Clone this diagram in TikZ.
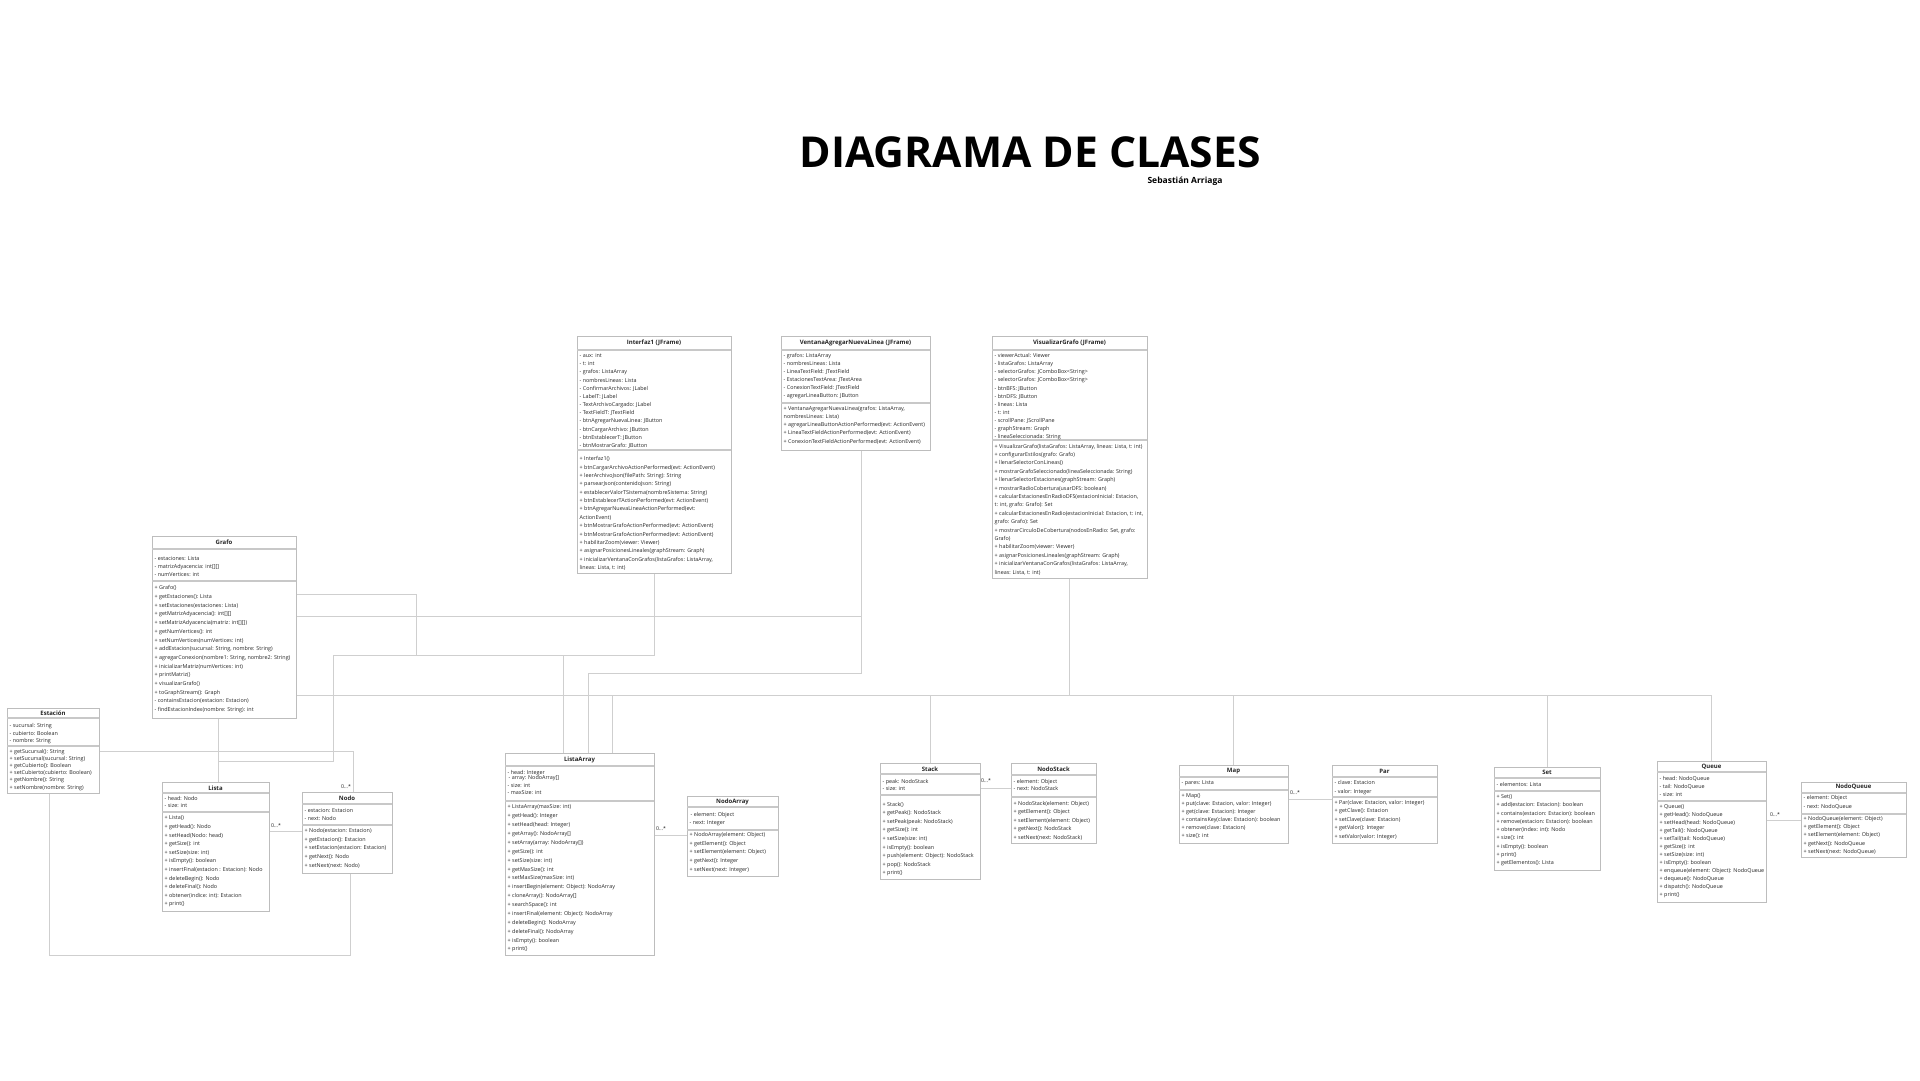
\documentclass[tikz,border=0pt]{standalone}
\usepackage{fontspec}
\setmainfont{Open Sans}
\usetikzlibrary{calc}
\pgfdeclarelayer{bg}
\pgfdeclarelayer{paper}
\pgfsetlayers{paper,bg,main}
\definecolor{boxline}{HTML}{BDBDBD}
\definecolor{sepcol}{HTML}{C8C8C8}
\definecolor{conncol}{HTML}{CFCFCF}
\definecolor{txt}{HTML}{262626}
\tikzset{
  clsbox/.style={draw=boxline, fill=white, line width=0.8pt, inner sep=0pt, outer sep=0pt},
  sepline/.style={draw=sepcol, line width=1.3pt},
  clstitle/.style={font=\bfseries\fontsize{6}{7}\selectfont, inner sep=0pt, text=txt},
  members/.style={font=\fontsize{5.4}{#1}\selectfont, align=left, inner sep=0pt, anchor=north west, text=txt},
  conn/.style={draw=conncol, line width=0.9pt},
  mult/.style={font=\fontsize{5.2}{6}\selectfont, inner sep=0pt, text=txt}
}
\newcommand\umlbox[7]{%
  \node[clsbox, minimum width={#4-#2}, minimum height={#5-#3}, anchor=north west] (#1) at (#2,#3) {};
  \draw[sepline] (#2,#6) -- (#4,#6);
  \draw[sepline] (#2,#7) -- (#4,#7);}
\begin{document}
\begin{tikzpicture}[x=1pt,y=-1pt]
\useasboundingbox (0,0) rectangle (1920,1080);
\begin{pgfonlayer}{paper}
\fill[white] (0,0) rectangle (1920,1080);
\end{pgfonlayer}

\node[font=\bfseries\fontsize{42.6}{50}\selectfont, text=black, inner sep=0pt] (title) at (1030,152) {DIAGRAMA DE CLASES};
\node[font=\bfseries\fontsize{8.5}{10}\selectfont, text=black, inner sep=0pt] (author) at (1185,181) {Sebastián Arriaga};

% ---------------- Interfaz1
\umlbox{interfaz}{577}{336}{731}{573}{350}{450}
\node[clstitle] (interfaz-t) at (654,343) {Interfaz1 (JFrame)};
\node[members=8.18] (interfaz-a) at (579.5,353.3) {- aux: int\\- t: int\\- grafos: ListaArray\\- nombresLineas: Lista\\- ConfirmarArchivos: JLabel\\- LabelT: JLabel\\- TextArchivoCargado: JLabel\\- TextFieldT: JTextField\\- btnAgregarNuevaLinea: JButton\\- btnCargarArchivo: JButton\\- btnEstablecerT: JButton\\- btnMostrarGrafo: JButton};
\node[members=8.38] (interfaz-m) at (579.5,456.3) {+ Interfaz1()\\+ btnCargarArchivoActionPerformed(evt: ActionEvent)\\+ leerArchivoJson(filePath: String): String\\+ parsearJson(contenidoJson: String)\\+ establecerValorTSistema(nombreSistema: String)\\+ btnEstablecerTActionPerformed(evt: ActionEvent)\\+ btnAgregarNuevaLineaActionPerformed(evt:\\ActionEvent)\\+ btnMostrarGrafoActionPerformed(evt: ActionEvent)\\+ btnMostrarGrafoActionPerformed(evt: ActionEvent)\\+ habilitarZoom(viewer: Viewer)\\+ asignarPosicionesLineales(graphStream: Graph)\\+ inicializarVentanaConGrafos(listaGrafos: ListaArray,\\lineas: Lista, t: int)};

% ---------------- VentanaAgregarNuevaLinea
\umlbox{ventana}{781}{336}{930}{450}{350}{403}
\node[clstitle] (ventana-t) at (855.5,343) {VentanaAgregarNuevaLinea (JFrame)};
\node[members=8] (ventana-a) at (783.5,353.3) {- grafos: ListaArray\\- nombresLineas: Lista\\- LineaTextField: JTextField\\- EstacionesTextArea: JTextArea\\- ConexionTextField: JTextField\\- agregarLineaButton: JButton};
\node[members=8.2] (ventana-m) at (783.5,406) {+ VentanaAgregarNuevaLinea(grafos: ListaArray,\\nombresLineas: Lista)\\+ agregarLineaButtonActionPerformed(evt: ActionEvent)\\+ LineaTextFieldActionPerformed(evt: ActionEvent)\\+ ConexionTextFieldActionPerformed(evt: ActionEvent)};

% ---------------- VisualizarGrafo
\umlbox{visualizar}{992}{336}{1147}{578}{350}{440}
\node[clstitle] (visualizar-t) at (1069.5,343) {VisualizarGrafo (JFrame)};
\node[members=8.1] (visualizar-a) at (994.5,353.3) {- viewerActual: Viewer\\- listaGrafos: ListaArray\\- selectorGrafos: JComboBox<String>\\- selectorGrafos: JComboBox<String>\\- btnBFS: JButton\\- btnDFS: JButton\\- lineas: Lista\\- t: int\\- scrollPane: JScrollPane\\- graphStream: Graph\\- lineaSeleccionada: String};
\node[members=8.4] (visualizar-m) at (994.5,443.8) {+ VisualizarGrafo(listaGrafos: ListaArray, lineas: Lista, t: int)\\+ configurarEstilos(grafo: Grafo)\\+ llenarSelectorConLineas()\\+ mostrarGrafoSeleccionado(lineaSeleccionada: String)\\+ llenarSelectorEstaciones(graphStream: Graph)\\+ mostrarRadioCobertura(usarDFS: boolean)\\+ calcularEstacionesEnRadioDFS(estacionInicial: Estacion,\\t: int, grafo: Grafo): Set\\+ calcularEstacionesEnRadio(estacionInicial: Estacion, t: int,\\grafo: Grafo): Set\\+ mostrarCirculoDeCobertura(nodosEnRadio: Set, grafo:\\Grafo)\\+ habilitarZoom(viewer: Viewer)\\+ asignarPosicionesLineales(graphStream: Graph)\\+ inicializarVentanaConGrafos(listaGrafos: ListaArray,\\lineas: Lista, t: int)};

% ---------------- Grafo
\umlbox{grafo}{152}{536}{296}{718}{549}{581}
\node[clstitle] (grafo-t) at (224,542.5) {Grafo};
\node[members=8] (grafo-a) at (154.5,556.3) {- estaciones: Lista\\- matrizAdyacencia: int[][]\\- numVertices: int};
\node[members=8.7] (grafo-m) at (154.5,585.5) {+ Grafo()\\+ getEstaciones(): Lista\\+ setEstaciones(estaciones: Lista)\\+ getMatrizAdyacencia(): int[][]\\+ setMatrizAdyacencia(matriz: int[][])\\+ getNumVertices(): int\\+ setNumVertices(numVertices: int)\\+ addEstacion(sucursal: String, nombre: String)\\+ agregarConexion(nombre1: String, nombre2: String)\\+ inicializarMatriz(numVertices: int)\\+ printMatriz()\\+ visualizarGrafo()\\+ toGraphStream(): Graph\\- containsEstacion(estacion: Estacion)\\- findEstacionIndex(nombre: String): int};

% ---------------- Estacion
\umlbox{estacion}{7}{708}{99}{793}{718}{746}
\node[clstitle] (estacion-t) at (53,713) {Estación};
\node[members=7.5] (estacion-a) at (9.5,723.3) {- sucursal: String\\- cubierto: Boolean\\- nombre: String};
\node[members=7.2] (estacion-m) at (9.5,748.8) {+ getSucursal(): String\\+ setSucursal(sucursal: String)\\+ getCubierto(): Boolean\\+ setCubierto(cubierto: Boolean)\\+ getNombre(): String\\+ setNombre(nombre: String)};

% ---------------- Lista
\umlbox{lista}{162}{782}{269}{911}{793}{812}
\node[clstitle] (lista-t) at (215.5,788) {Lista};
\node[members=7] (lista-a) at (164.5,796.3) {- head: Nodo\\- size: int};
\node[members=8.6] (lista-m) at (164.5,815.8) {+ Lista()\\+ getHead(): Nodo\\+ setHead(Nodo: head)\\+ getSize(): int\\+ setSize(size: int)\\+ isEmpty(): boolean\\+ insertFinal(estacion : Estacion): Nodo\\+ deleteBegin(): Nodo\\+ deleteFinal(): Nodo\\+ obtener(indice: int): Estacion\\+ print()};

% ---------------- Nodo
\umlbox{nodo}{302}{792}{392}{873}{804}{825}
\node[clstitle] (nodo-t) at (347,798) {Nodo};
\node[members=8] (nodo-a) at (304.5,808.3) {- estacion: Estacion\\- next: Nodo};
\node[members=8.6] (nodo-m) at (304.5,828.3) {+ Nodo(estacion: Estacion)\\+ getEstacion(): Estacion\\+ setEstacion(estacion: Estacion)\\+ getNext(): Nodo\\+ setNext(next: Nodo)};

% ---------------- ListaArray
\umlbox{listaarray}{505}{753}{654}{955}{766}{801}
\node[clstitle] (listaarray-t) at (579.5,760) {ListaArray};
\node[members=6] (listaarray-a1) at (507.5,770.3) {- head: Integer};
\node[members=6] (listaarray-a2) at (508.5,775.3) {- array: NodoArray[]};
\node[members=6.5] (listaarray-a3) at (507.5,783.8) {- size: int\\- maxSize: int};
\node[members=8.875] (listaarray-m) at (507.5,804.8) {+ ListaArray(maxSize: int)\\+ getHead(): Integer\\+ setHead(head: Integer)\\+ getArray(): NodoArray[]\\+ setArray(array: NodoArray[])\\+ getSize(): int\\+ setSize(size: int)\\+ getMaxSize(): int\\+ setMaxSize(maxSize: int)\\+ insertBegin(element: Object): NodoArray\\+ cloneArray(): NodoArray[]\\+ searchSpace(): int\\+ insertFinal(element: Object): NodoArray\\+ deleteBegin(): NodoArray\\+ deleteFinal(): NodoArray\\+ isEmpty(): boolean\\+ print()};

% ---------------- NodoArray
\umlbox{nodoarray}{687}{796}{778}{876}{807}{830}
\node[clstitle] (nodoarray-t) at (732.5,802) {NodoArray};
\node[members=8] (nodoarray-a) at (689.5,812.3) {\hspace{1pt}- element: Object\\- next: Integer};
\node[members=8.6] (nodoarray-m) at (689.5,832.3) {+ NodoArray(element: Object)\\+ getElement(): Object\\+ setElement(element: Object)\\+ getNext(): Integer\\+ setNext(next: Integer)};

% ---------------- Stack
\umlbox{stack}{880}{763}{980}{879}{774}{795}
\node[clstitle] (stack-t) at (930,769) {Stack};
\node[members=7] (stack-a) at (882.5,779.3) {- peak: NodoStack\\- size: int};
\node[members=8.6] (stack-m) at (882.5,801.8) {+ Stack()\\+ getPeak(): NodoStack\\+ setPeak(peak: NodoStack)\\+ getSize(): int\\+ setSize(size: int)\\+ isEmpty(): boolean\\+ push(element: Object): NodoStack\\+ pop(): NodoStack\\+ print()};

% ---------------- NodoStack
\umlbox{nodostack}{1011}{763}{1096}{843}{775}{797}
\node[clstitle] (nodostack-t) at (1053.5,769) {NodoStack};
\node[members=7] (nodostack-a) at (1013.5,779.3) {- element: Object\\- next: NodoStack};
\node[members=8.5] (nodostack-m) at (1013.5,800.8) {+ NodoStack(element: Object)\\+ getElement(): Object\\+ setElement(element: Object)\\+ getNext(): NodoStack\\+ setNext(next: NodoStack)};

% ---------------- Map
\umlbox{map}{1179}{765}{1288}{843}{777}{790}
\node[clstitle] (map-t) at (1233.5,771) {Map};
\node[members=8] (map-a) at (1181.5,780.8) {- pares: Lista};
\node[members=8] (map-m) at (1181.5,793.5) {+ Map()\\+ put(clave: Estacion, valor: Integer)\\+ get(clave: Estacion): Integer\\+ containsKey(clave: Estacion): boolean\\+ remove(clave: Estacion)\\+ size(): int};

% ---------------- Par
\umlbox{par}{1332}{765}{1437}{843}{777}{797}
\node[clstitle] (par-t) at (1384.5,771) {Par};
\node[members=9] (par-a) at (1334.5,780.3) {- clave: Estacion\\- valor: Integer};
\node[members=8.5] (par-m) at (1334.5,799.8) {+ Par(clave: Estacion, valor: Integer)\\+ getClave(): Estacion\\+ setClave(clave: Estacion)\\+ getValor(): Integer\\+ setValor(valor: Integer)};

% ---------------- Set
\umlbox{set}{1494}{767}{1600}{870}{778}{791}
\node[clstitle] (set-t) at (1547,772) {Set};
\node[members=8] (set-a) at (1496.5,782.5) {- elementos: Lista};
\node[members=8.25] (set-m) at (1496.5,794.5) {+ Set()\\+ add(estacion: Estacion): boolean\\+ contains(estacion: Estacion): boolean\\+ remove(estacion: Estacion): boolean\\+ obtener(index: int): Nodo\\+ size(): int\\+ isEmpty(): boolean\\+ print()\\+ getElementos(): Lista};

% ---------------- Queue
\umlbox{queue}{1657}{761}{1766}{902}{772}{801}
\node[clstitle] (queue-t) at (1711.5,767) {Queue};
\node[members=8] (queue-a) at (1659.5,776.3) {- head: NodoQueue\\- tail: NodoQueue\\- size: int};
\node[members=8] (queue-m) at (1659.5,804.8) {+ Queue()\\+ getHead(): NodoQueue\\+ setHead(head: NodoQueue)\\+ getTail(): NodoQueue\\+ setTail(tail: NodoQueue)\\+ getSize(): int\\+ setSize(size: int)\\+ isEmpty(): boolean\\+ enqueue(element: Object): NodoQueue\\+ dequeue(): NodoQueue\\+ dispatch(): NodoQueue\\+ print()};

% ---------------- NodoQueue
\umlbox{nodoqueue}{1801}{782}{1906}{857}{793}{814}
\node[clstitle] (nodoqueue-t) at (1853.5,787) {NodoQueue};
\node[members=9] (nodoqueue-a) at (1803.5,795.3) {- element: Object\\- next: NodoQueue};
\node[members=8.3] (nodoqueue-m) at (1803.5,815.8) {+ NodoQueue(element: Object)\\+ getElement(): Object\\+ setElement(element: Object)\\+ getNext(): NodoQueue\\+ setNext(next: NodoQueue)};

% ---------------- connectors
\coordinate (jA) at (416,594);
\coordinate (jB) at (416,655);
\coordinate (iA) at (654,655);
\coordinate (iB) at (333,761);
\coordinate (gl) at (218,761);
\coordinate (la1) at (563,655);
\coordinate (v1) at (861,673);
\coordinate (v2) at (861,616);
\coordinate (la2) at (588,673);
\coordinate (la3) at (612,695);
\coordinate (busR) at (1711.5,695);
\coordinate (en1) at (353,751);
\coordinate (eb1) at (49,955);
\coordinate (eb2) at (350,955);
\coordinate (ln) at (280,831);
\coordinate (an) at (670,835);
\coordinate (sn) at (995,788);
\coordinate (mp) at (1300,799);
\coordinate (qn) at (1780,820);

\begin{pgfonlayer}{bg}
\draw[conn] (grafo.east |- jA) -- (jA) -- (jB);
\draw[conn] (interfaz.south) -- (iA) -| (iB) -- (gl);
\draw[conn] (grafo.south -| gl) -- (lista.north -| gl);
\draw[conn] (la1) -- (listaarray.north -| la1);
\draw[conn] (ventana.south -| v1) -- (v1) -- (la2) -- (listaarray.north -| la2);
\draw[conn] (grafo.east |- v2) -- (v2);
\draw[conn] (grafo.east |- busR) -- (busR) -- (queue.north);
\draw[conn] (la3) -- (listaarray.north -| la3);
\draw[conn] (visualizar.south) -- (visualizar.south |- busR);
\draw[conn] (stack.north) -- (stack.north |- busR);
\draw[conn] (map.north) -- (map.north |- busR);
\draw[conn] (set.north) -- (set.north |- busR);
\draw[conn] (estacion.east |- en1) -- (en1) -- (nodo.north -| en1);
\draw[conn] (estacion.south -| eb1) -- (eb1) -- (eb2) -- (nodo.south -| eb2);
\draw[conn] (lista.east |- ln) -- (nodo.west |- ln);
\draw[conn] (listaarray.east |- an) -- (nodoarray.west |- an);
\draw[conn] (stack.east |- sn) -- (nodostack.west |- sn);
\draw[conn] (map.east |- mp) -- (par.west |- mp);
\draw[conn] (queue.east |- qn) -- (nodoqueue.west |- qn);
\end{pgfonlayer}

\node[mult] (m1) at (346,787) {0...*};
\node[mult] (m2) at (276,826) {0...*};
\node[mult] (m3) at (661,829) {0...*};
\node[mult] (m4) at (986,781) {0...*};
\node[mult] (m5) at (1295,793) {0...*};
\node[mult] (m6) at (1775,815) {0...*};
\end{tikzpicture}
\end{document}
